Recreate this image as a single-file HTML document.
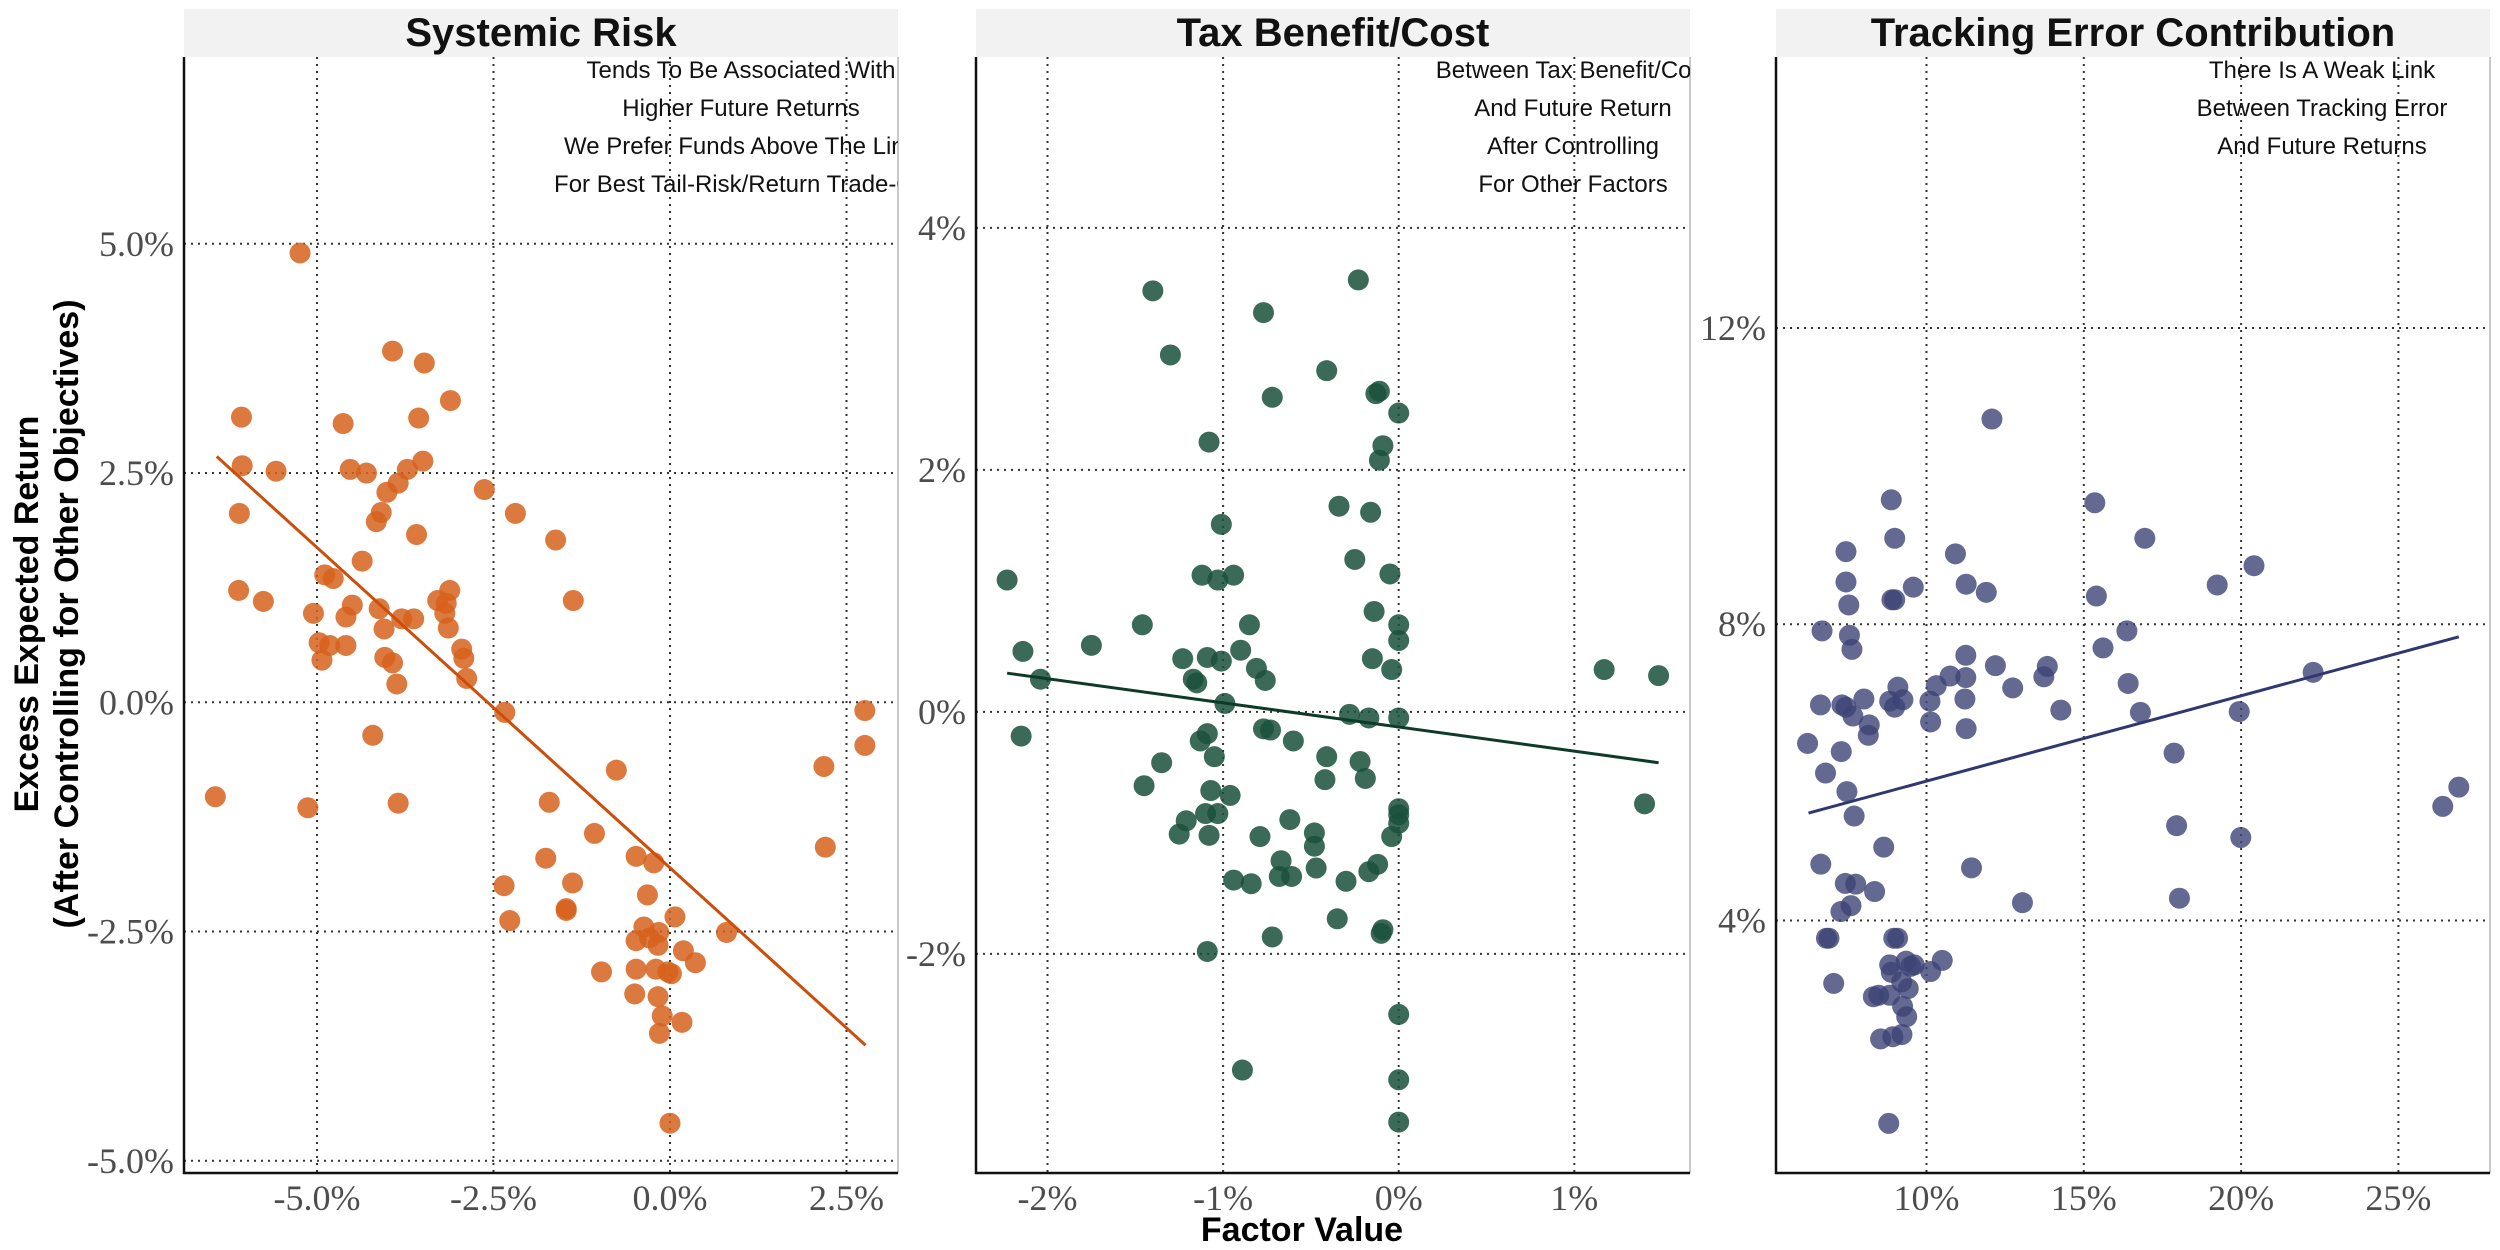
<!DOCTYPE html>
<html><head><meta charset="utf-8"><style>
html,body{margin:0;padding:0;background:#fff;}
svg{display:block;}
text{font-family:"Liberation Sans",sans-serif;}
.tick{font-family:"Liberation Serif",serif;font-size:36px;fill:#4d4d4d;}
.title{font-size:40px;font-weight:bold;fill:#111;}
.ann{font-size:24px;fill:#111;}
</style></head><body>
<svg id="chart" width="2500" height="1250" viewBox="0 0 2500 1250" xmlns="http://www.w3.org/2000/svg">
<text transform="translate(38,614) rotate(-90)" text-anchor="middle" font-size="34" font-weight="bold"><tspan x="0" y="0">Excess Expected Return</tspan><tspan x="0" y="40">(After Controlling for Other Objectives)</tspan></text>
<text x="1302" y="1241" text-anchor="middle" font-size="34" font-weight="bold">Factor Value</text>
</svg>
<script>
// ---- Panel 1: Systemic Risk ----
const p1X=[-5.24,-3.93,-3.48,-3.11,-6.07,-4.63,-3.56,-6.06,-5.58,-4.53,-4.30,-3.72,-3.50,-3.85,-4.01,-2.63,-6.10,-4.09,-4.16,-2.19,-3.59,-1.62,-4.36,-4.89,-4.77,-6.11,-5.76,-3.12,-3.29,-3.17,-1.37,-4.50,-5.05,-4.12,-4.59,-3.80,-3.63,-3.19,-4.05,-3.14,-4.97,-4.82,-4.59,-2.95,-2.92,-4.04,-3.93,-4.93,-3.87,-2.88,-2.34,-4.21,2.76,2.76,2.18,-0.76,-6.44,-5.13,-3.85,-1.71,2.20,-1.07,-1.76,-0.48,-0.23,-2.35,-1.38,-0.32,-2.27,-1.47,-1.47,0.07,-0.37,-0.16,-0.48,-0.29,-0.17,0.80,0.19,0.36,-0.97,-0.48,-0.20,-0.03,0.02,-0.50,-0.17,-0.11,0.17,-0.15,0.00];
const p1Y=[4.90,3.83,3.70,3.29,3.11,3.04,3.10,2.58,2.52,2.54,2.50,2.54,2.63,2.39,2.29,2.32,2.06,2.07,1.97,2.06,1.83,1.77,1.54,1.39,1.35,1.22,1.10,1.22,1.11,1.08,1.11,1.06,0.97,1.02,0.93,0.91,0.91,0.97,0.80,0.81,0.65,0.62,0.62,0.58,0.48,0.49,0.43,0.46,0.20,0.26,-0.11,-0.36,-0.09,-0.47,-0.70,-0.74,-1.03,-1.15,-1.10,-1.09,-1.58,-1.43,-1.70,-1.68,-1.75,-2.00,-1.97,-2.10,-2.38,-2.27,-2.25,-2.34,-2.45,-2.51,-2.60,-2.57,-2.65,-2.51,-2.71,-2.84,-2.94,-2.91,-2.91,-2.94,-2.96,-3.18,-3.21,-3.42,-3.49,-3.61,-4.59];
const p1Trend=[[-6.42,2.68],[2.77,-3.74]];
const p1XTicks=[-5,-2.5,0,2.5];
const p1XLabels=["-5.0%","-2.5%","0.0%","2.5%"];
const p1YTicks=[5,2.5,0,-2.5,-5];
const p1YLabels=["5.0%","2.5%","0.0%","-2.5%","-5.0%"];
// ---- Panel 2: Tax Benefit/Cost ----
const p2X=[-2.23,-2.14,-2.15,-2.04,-1.75,-1.46,-1.45,-1.40,-1.30,-1.35,-1.23,-1.17,-1.15,-1.21,-1.25,-1.12,-1.08,-1.09,-1.09,-1.13,-1.05,-1.07,-1.10,-1.03,-1.08,-1.09,-1.01,-1.03,-0.94,-1.01,-0.99,-0.96,-0.90,-0.94,-0.89,-0.85,-0.81,-0.76,-0.84,-0.77,-0.72,-0.77,-0.73,-0.79,-0.72,-0.67,-0.68,-0.61,-0.60,-0.62,-0.48,-0.48,-0.47,-0.41,-0.41,-0.42,-0.34,-0.35,-0.30,-0.28,-0.25,-0.23,-0.22,-0.19,-0.17,-0.17,-0.16,-0.14,-0.15,-0.12,-0.13,-0.11,-0.11,-0.09,-0.10,-0.09,-0.05,-0.04,-0.04,0.00,0.00,0.00,0.00,0.00,0.00,0.00,0.00,0.00,0.00,1.17,1.48,1.40];
const p2Y=[1.09,0.50,-0.20,0.27,0.55,0.72,-0.61,3.48,2.95,-0.42,0.44,0.27,0.24,-0.90,-1.01,1.13,2.23,0.45,-0.18,-0.24,-0.37,-0.65,-0.84,-0.84,-1.02,-1.98,1.55,1.09,1.13,0.42,0.07,-0.69,0.51,-1.39,-2.96,0.72,0.36,0.26,-1.42,3.30,2.60,-0.14,-0.15,-1.03,-1.86,-1.23,-1.36,-1.36,-0.24,-0.89,-1.00,-1.11,-1.29,2.82,-0.37,-0.56,1.70,-1.71,-1.40,-0.02,1.26,3.57,-0.41,-0.55,-0.05,-1.32,1.65,0.83,0.44,-1.26,2.63,2.65,2.08,2.20,-1.83,-1.80,1.14,0.35,-1.03,2.47,0.72,0.59,-0.05,-0.80,-0.92,-0.85,-2.50,-3.04,-3.39,0.35,0.30,-0.76];
const p2Trend=[[-2.23,0.32],[1.48,-0.42]];
const p2XTicks=[-2,-1,0,1];
const p2XLabels=["-2%","-1%","0%","1%"];
const p2YTicks=[4,2,0,-2];
const p2YLabels=["4%","2%","0%","-2%"];
// ---- Panel 3: Tracking Error Contribution ----
const p3X=[6.22,6.63,6.68,6.79,6.64,6.82,6.90,7.05,7.29,7.31,7.44,7.44,7.53,7.55,7.63,7.47,7.70,7.44,7.66,8.01,8.18,8.15,7.42,7.75,7.60,7.28,8.35,8.64,8.88,8.99,8.90,8.99,8.83,9.09,8.99,9.25,9.58,8.96,9.08,8.83,8.88,9.35,9.50,9.61,9.21,9.42,8.31,8.48,8.83,9.24,9.37,8.54,8.93,9.22,8.80,10.11,10.13,10.31,10.75,10.13,10.50,10.92,11.26,11.25,11.25,11.22,11.26,11.43,11.90,12.08,12.19,12.74,13.05,13.73,13.84,14.27,15.35,15.40,15.61,16.37,16.41,16.80,16.94,17.87,17.95,18.04,19.24,19.94,19.99,20.41,22.29,26.41,26.92];
const p3Y=[6.39,6.91,7.91,5.99,4.76,3.76,3.76,3.15,6.28,6.91,8.98,8.57,8.26,7.85,7.66,5.74,5.41,6.88,6.76,6.99,6.64,6.50,4.50,4.49,4.20,4.12,4.39,4.99,9.68,9.16,8.33,8.33,6.96,7.15,6.88,6.98,8.50,3.76,3.76,3.40,3.30,3.45,3.38,3.40,3.17,3.08,2.97,2.99,2.99,2.84,2.70,2.40,2.43,2.46,1.26,6.96,6.68,7.17,7.30,3.31,3.46,8.95,8.54,7.58,7.28,6.99,6.59,4.71,8.43,10.77,7.44,7.14,4.24,7.29,7.43,6.84,9.64,8.38,7.68,7.91,7.20,6.81,9.16,6.26,5.28,4.30,8.53,6.82,5.12,8.79,7.35,5.54,5.80];
const p3Trend=[[6.25,5.45],[26.92,7.83]];
const p3XTicks=[10,15,20,25];
const p3XLabels=["10%","15%","20%","25%"];
const p3YTicks=[12,8,4];
const p3YLabels=["12%","8%","4%"];

const NS="http://www.w3.org/2000/svg";
const svg=document.getElementById('chart');
function mk(tag,attrs,parent){const e=document.createElementNS(NS,tag);for(const k in attrs)e.setAttribute(k,attrs[k]);(parent||svg).appendChild(e);return e;}

const panels=[
 {id:'systemic-risk',title:'Systemic Risk',left:184,right:898,x0:0,xOff:670,xk:70.6,y0:0,yOff:702.3,yk:91.7,
  X:p1X,Y:p1Y,trend:p1Trend,xt:p1XTicks,xl:p1XLabels,yt:p1YTicks,yl:p1YLabels,
  dot:'rgb(214,98,28)',op:0.85,line:'#cc4e0a',
  ann:["Tends To Be Associated With","Higher Future Returns","We Prefer Funds Above The Line","For Best Tail-Risk/Return Trade-Off"],annX:741},
 {id:'tax-benefit',title:'Tax Benefit/Cost',left:976,right:1690,x0:0,xOff:1398.7,xk:175.6,y0:0,yOff:711.9,yk:121.0,
  X:p2X,Y:p2Y,trend:p2Trend,xt:p2XTicks,xl:p2XLabels,yt:p2YTicks,yl:p2YLabels,
  dot:'rgb(26,80,60)',op:0.85,line:'#0d3b28',
  ann:["Between Tax Benefit/Cost","And Future Return","After Controlling","For Other Factors"],annX:1573},
 {id:'tracking-error',title:'Tracking Error Contribution',left:1776,right:2490,x0:10,xOff:1926.5,xk:31.46,y0:8,yOff:624.2,yk:74.06,
  X:p3X,Y:p3Y,trend:p3Trend,xt:p3XTicks,xl:p3XLabels,yt:p3YTicks,yl:p3YLabels,
  dot:'rgb(60,68,118)',op:0.8,line:'#2f3870',
  ann:["There Is A Weak Link","Between Tracking Error","And Future Returns"],annX:2322}
];
const TOP=57,BOT=1173;
panels.forEach((p,pi)=>{
 const sx=v=>p.xOff+(v-p.x0)*p.xk;
 const sy=v=>p.yOff-(v-p.y0)*p.yk;
 const g=mk('g',{});
 
 
 const cp=mk('clipPath',{id:'clip'+pi},g);
 mk('rect',{x:p.left,y:TOP,width:p.right-p.left,height:BOT-TOP},cp);
 const strip=mk('rect',{x:p.left,y:9,width:p.right-p.left,height:TOP-9,fill:'#f2f2f2'},g);
 
 
 const t=mk('text',{x:(p.left+p.right)/2,y:46,'text-anchor':'middle','class':'title'},g);
 t.textContent=p.title;
 
 
 mk('line',{x1:p.right,y1:TOP,x2:p.right,y2:BOT,stroke:'#c8c8c8','stroke-width':2},g);
 p.xt.forEach((v,i)=>{
  const x=sx(v);
  const gl=mk('line',{x1:x,y1:TOP,x2:x,y2:BOT,stroke:'#333','stroke-width':2,'stroke-dasharray':'2,5'},g);
  
  
  const tl=mk('text',{x:x,y:1210,'text-anchor':'middle','class':'tick'},g);
  tl.textContent=p.xl[i];
  
  
 });
 p.yt.forEach((v,i)=>{
  const y=sy(v);
  const gl=mk('line',{x1:p.left,y1:y,x2:p.right,y2:y,stroke:'#333','stroke-width':2,'stroke-dasharray':'2,5'},g);
  
  
  const tl=mk('text',{x:p.left-10,y:y+12,'text-anchor':'end','class':'tick'},g);
  tl.textContent=p.yl[i];
  
  
 });
 const ag=mk('g',{'clip-path':'url(#clip'+pi+')'},g);
 p.ann.forEach((s,i)=>{
  const a=mk('text',{x:p.annX,y:78+i*38,'text-anchor':'middle','class':'ann'},ag);
  a.textContent=s;
  
  
 });
 const dg=mk('g',{'clip-path':'url(#clip'+pi+')'},g);
 p.X.forEach((v,i)=>{
  const c=mk('circle',{cx:sx(v),cy:sy(p.Y[i]),r:10.5,fill:p.dot,'fill-opacity':p.op},dg);
  
  
 });
 const tr=mk('line',{x1:sx(p.trend[0][0]),y1:sy(p.trend[0][1]),x2:sx(p.trend[1][0]),y2:sy(p.trend[1][1]),stroke:p.line,'stroke-width':3},g);
 
 
 mk('line',{x1:p.left,y1:TOP,x2:p.left,y2:BOT+1,stroke:'#111','stroke-width':2.5},g);
 mk('line',{x1:p.left-1,y1:BOT,x2:p.right,y2:BOT,stroke:'#111','stroke-width':2.5},g);
});
</script>
</body></html>
